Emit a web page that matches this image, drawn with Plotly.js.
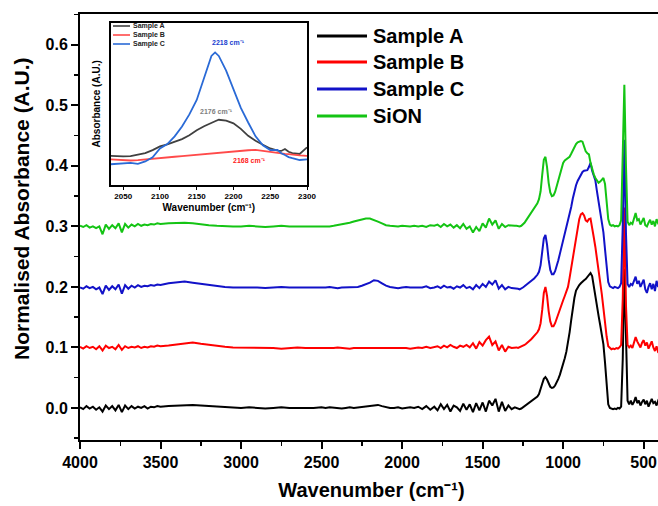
<!DOCTYPE html>
<html><head><meta charset="utf-8">
<script src="https://cdn.plot.ly/plotly-3.0.1.min.js"></script>
<style>html,body{margin:0;padding:0;overflow:hidden;background:#fff}#chart{width:663px;height:506px}</style>
</head><body><div id="chart"></div>
<script>
// ---------- main spectra (wavenumber in cm-1, normalised absorbance, offset as plotted) ----------
const wavenumber = [
4000,3980,3960,3940,3920,3900,3880,3860,3840,3820,3800,3780,3760,3740,3720,3700,3680,3660,3640,3620,3600,3580,3560,3540,3520,3500,
3450,3400,3350,3300,3250,3200,3150,3100,3050,3000,2950,2900,2850,2800,2750,2700,2650,2600,2550,2500,
2475,2450,2425,2400,2375,2350,2325,2300,2275,2250,2225,2200,2175,2150,2125,2100,2075,2050,2025,2000,1975,1950,1925,1900,1875,1850,1825,
1800,1780,1760,1740,1720,1700,1680,1660,1640,1620,1600,1580,1560,1540,1520,1500,1480,1460,1440,1420,1400,1380,1360,1340,1320,1300,
1290,1280,1270,1260,1250,1240,1230,1220,1210,1200,
1190,1180,1170,1160,1150,1140,1130,1120,1110,1100,
1090,1080,1070,1060,1050,1040,1030,1020,1010,1000,
990,980,970,960,950,940,930,920,910,900,
890,880,870,860,850,840,830,820,810,800,
790,780,770,760,750,740,730,720,710,700,
690,680,670,660,650,640,630,620,610,600,
590,580,570,560,550,540,530,520,510,500,
490,480,470,460,450,440,430,420,410,400];

const sampleA = [
0.001,-0.002,0.003,-0.001,0.002,-0.003,0.001,-0.006,0.004,-0.002,0.003,-0.004,0.005,-0.007,0.004,-0.002,0.003,-0.001,0.002,0.000,0.003,-0.001,0.002,0.001,0.003,0.002,
0.003,0.004,0.005,0.005,0.004,0.003,0.002,0.001,0.001,0.000,0.001,0.000,-0.001,0.000,0.001,0.000,0.000,-0.001,0.000,0.001,
0.000,0.001,0.000,0.000,-0.001,0.000,0.001,0.000,0.001,0.002,0.003,0.004,0.005,0.005,0.003,0.001,0.000,0.000,0.001,-0.001,0.000,0.001,0.000,0.002,-0.002,0.003,-0.003,
0.002,-0.004,0.006,-0.002,0.005,-0.006,0.004,0.001,-0.005,0.007,-0.003,0.006,-0.007,0.008,-0.004,0.009,-0.006,0.012,0.004,0.015,-0.006,0.010,-0.005,0.004,-0.002,0.001,
0.000,-0.001,-0.002,-0.001,0.001,0.003,0.005,0.007,0.009,0.011,
0.013,0.015,0.017,0.019,0.023,0.030,0.040,0.048,0.051,0.047,
0.040,0.035,0.033,0.034,0.037,0.042,0.048,0.055,0.063,0.072,
0.082,0.093,0.107,0.125,0.145,0.165,0.182,0.194,0.200,0.203,
0.206,0.209,0.211,0.213,0.216,0.220,0.223,0.218,0.200,0.184,
0.168,0.152,0.137,0.120,0.105,0.075,0.040,0.006,0.000,-0.001,
-0.002,-0.001,-0.002,0.000,-0.001,0.002,0.080,0.230,0.090,0.012,
0.006,0.012,0.005,0.010,0.018,0.008,0.012,0.004,0.010,0.014,
0.006,0.012,0.002,0.010,0.015,0.008,0.010,0.004,0.012,0.009];

const sampleB = [
0.101,0.098,0.102,0.099,0.101,0.097,0.102,0.095,0.103,0.099,0.101,0.097,0.104,0.096,0.102,0.099,0.101,0.100,0.102,0.099,0.101,0.100,0.102,0.101,0.103,0.102,
0.103,0.105,0.107,0.108,0.106,0.104,0.102,0.101,0.100,0.100,0.100,0.099,0.100,0.099,0.098,0.099,0.100,0.099,0.099,0.099,
0.099,0.098,0.099,0.100,0.099,0.099,0.098,0.099,0.099,0.099,0.100,0.100,0.100,0.100,0.100,0.099,0.099,0.099,0.100,0.099,0.099,0.098,0.099,0.100,0.099,0.101,0.099,
0.100,0.102,0.099,0.103,0.100,0.104,0.101,0.099,0.103,0.101,0.104,0.100,0.107,0.098,0.109,0.103,0.112,0.118,0.104,0.110,0.095,0.104,0.093,0.101,0.099,0.100,
0.100,0.099,0.100,0.101,0.102,0.104,0.106,0.108,0.110,0.113,
0.116,0.119,0.122,0.125,0.130,0.140,0.162,0.190,0.200,0.185,
0.160,0.143,0.135,0.135,0.140,0.148,0.157,0.165,0.172,0.178,
0.185,0.192,0.200,0.215,0.232,0.250,0.268,0.285,0.300,0.312,
0.320,0.322,0.318,0.310,0.308,0.312,0.313,0.300,0.282,0.266,
0.248,0.228,0.208,0.188,0.165,0.140,0.118,0.102,0.099,0.097,
0.098,0.097,0.099,0.098,0.100,0.104,0.180,0.331,0.170,0.104,
0.100,0.103,0.099,0.108,0.117,0.110,0.106,0.100,0.108,0.112,
0.103,0.108,0.098,0.104,0.110,0.100,0.094,0.102,0.092,0.091];

const sampleC = [
0.199,0.197,0.201,0.198,0.200,0.196,0.199,0.188,0.202,0.195,0.201,0.196,0.204,0.189,0.203,0.197,0.202,0.199,0.203,0.200,0.202,0.201,0.203,0.202,0.204,0.203,
0.206,0.208,0.209,0.207,0.205,0.203,0.201,0.200,0.199,0.199,0.200,0.199,0.198,0.199,0.200,0.199,0.199,0.198,0.199,0.199,
0.199,0.200,0.199,0.198,0.199,0.199,0.200,0.199,0.200,0.202,0.204,0.207,0.211,0.210,0.206,0.202,0.200,0.199,0.198,0.199,0.200,0.199,0.199,0.200,0.199,0.201,0.198,
0.199,0.201,0.198,0.202,0.199,0.200,0.197,0.201,0.199,0.203,0.198,0.200,0.196,0.203,0.198,0.205,0.200,0.209,0.204,0.211,0.197,0.203,0.196,0.200,0.198,0.198,
0.198,0.197,0.196,0.197,0.199,0.201,0.203,0.205,0.207,0.209,
0.211,0.214,0.217,0.220,0.225,0.236,0.258,0.280,0.286,0.270,
0.245,0.228,0.221,0.221,0.226,0.234,0.244,0.255,0.266,0.277,
0.288,0.297,0.306,0.318,0.332,0.346,0.358,0.368,0.375,0.380,
0.386,0.390,0.392,0.392,0.393,0.398,0.405,0.392,0.384,0.376,
0.358,0.340,0.325,0.311,0.290,0.262,0.232,0.208,0.201,0.199,
0.198,0.200,0.199,0.198,0.200,0.206,0.300,0.443,0.290,0.205,
0.200,0.205,0.203,0.212,0.217,0.205,0.210,0.200,0.207,0.212,
0.196,0.190,0.200,0.206,0.196,0.205,0.193,0.210,0.200,0.206];

const sampleSiON = [
0.301,0.299,0.302,0.298,0.300,0.297,0.300,0.287,0.303,0.296,0.302,0.297,0.305,0.290,0.304,0.298,0.303,0.300,0.304,0.301,0.303,0.302,0.304,0.303,0.305,0.304,
0.305,0.306,0.306,0.305,0.303,0.302,0.301,0.300,0.300,0.300,0.301,0.300,0.299,0.300,0.301,0.300,0.300,0.299,0.300,0.300,
0.300,0.300,0.301,0.302,0.303,0.305,0.306,0.308,0.310,0.312,0.313,0.313,0.311,0.308,0.305,0.302,0.301,0.300,0.300,0.301,0.300,0.300,0.301,0.300,0.301,0.299,0.302,
0.301,0.303,0.299,0.304,0.300,0.303,0.298,0.302,0.297,0.304,0.296,0.300,0.290,0.299,0.292,0.305,0.298,0.313,0.303,0.310,0.296,0.304,0.299,0.302,0.301,0.301,
0.301,0.300,0.300,0.301,0.303,0.306,0.310,0.314,0.318,0.321,
0.325,0.329,0.333,0.338,0.345,0.358,0.385,0.410,0.415,0.398,
0.372,0.356,0.350,0.351,0.357,0.366,0.376,0.387,0.397,0.405,
0.409,0.411,0.412,0.415,0.420,0.426,0.432,0.436,0.439,0.440,
0.441,0.440,0.432,0.424,0.421,0.419,0.405,0.393,0.386,0.380,
0.375,0.372,0.374,0.378,0.380,0.370,0.340,0.312,0.303,0.301,
0.302,0.300,0.301,0.300,0.302,0.310,0.420,0.534,0.400,0.308,
0.302,0.306,0.304,0.315,0.322,0.310,0.312,0.303,0.310,0.314,
0.302,0.300,0.306,0.311,0.303,0.309,0.300,0.312,0.305,0.306];

const seriesNames = ['Sample A', 'Sample B', 'Sample C', 'SiON'];

// ---------- inset (2030–2300 cm-1, arbitrary absorbance units) ----------
const insetWavenumber = [2033,2040,2050,2060,2070,2080,2090,2100,2110,2120,2130,2140,2150,2160,2165,2170,2175,2180,2190,2200,2210,2220,2230,2240,2250,2260,2265,2270,2275,2280,2290,2300];
const insetA = [0.180,0.178,0.176,0.178,0.188,0.196,0.215,0.238,0.250,0.266,0.283,0.306,0.337,0.362,0.374,0.385,0.393,0.402,0.396,0.380,0.346,0.303,0.272,0.248,0.225,0.212,0.210,0.222,0.205,0.196,0.191,0.232];
const insetB = [0.158,0.155,0.151,0.151,0.153,0.158,0.163,0.168,0.171,0.174,0.178,0.182,0.187,0.191,0.193,0.196,0.198,0.200,0.205,0.208,0.211,0.214,0.216,0.209,0.202,0.197,0.195,0.192,0.190,0.186,0.182,0.179];
const insetC = [0.128,0.130,0.135,0.136,0.130,0.145,0.170,0.225,0.252,0.300,0.360,0.435,0.524,0.660,0.735,0.795,0.817,0.795,0.705,0.585,0.475,0.385,0.300,0.245,0.215,0.216,0.195,0.185,0.172,0.165,0.154,0.158];
const insetNames = ['Sample A', 'Sample B', 'Sample C'];
const insetPeakLabels = ['2176 cm⁻¹', '2168 cm⁻¹', '2218 cm⁻¹'];
const insetTickVals = [2050, 2100, 2150, 2200, 2250, 2300];

// ---------- styling ----------
const FONT = 'Arial, "Liberation Sans", Helvetica, sans-serif';
const mainColors = ['#000000', '#ff0000', '#1212c8', '#14c414'];
const insetColors = ['#404040', '#ff4a4a', '#2a6ad6'];
const W = 663, H = 506, L = 80, R = 0, T = 14, B = 66;
const PW = W - L - R, PH = H - T - B;
const px2x = px => (px - L) / PW;
const py2y = py => (H - B - py) / PH;

const mainSeries = [sampleA, sampleB, sampleC, sampleSiON];
const traces = mainSeries.map((ys, i) => ({
  type: 'scatter', mode: 'lines', x: wavenumber, y: ys, name: seriesNames[i],
  line: {color: mainColors[i], width: 2}, showlegend: false, xaxis: 'x', yaxis: 'y'
}));
[insetA, insetB, insetC].forEach((ys, i) => traces.push({
  type: 'scatter', mode: 'lines', x: insetWavenumber, y: ys, name: insetNames[i],
  line: {color: insetColors[i], width: 1.8}, showlegend: false, xaxis: 'x2', yaxis: 'y2'
}));

const shapes = [], annotations = [];
// main legend (line sample + label)
const legRows = [36, 62, 89, 116];
seriesNames.forEach((n, i) => {
  shapes.push({type: 'line', xref: 'paper', yref: 'paper', x0: px2x(317), x1: px2x(367), y0: py2y(legRows[i]), y1: py2y(legRows[i]), line: {color: mainColors[i], width: 3}});
  annotations.push({xref: 'paper', yref: 'paper', x: px2x(371), y: py2y(legRows[i]), xanchor: 'left', yanchor: 'middle', showarrow: false, text: n, font: {family: FONT, size: 20, weight: 700, color: '#000'}});
});
// inset legend
const insLegRows = [26, 35, 44];
insetNames.forEach((n, i) => {
  shapes.push({type: 'line', xref: 'paper', yref: 'paper', x0: px2x(113), x1: px2x(130), y0: py2y(insLegRows[i]), y1: py2y(insLegRows[i]), line: {color: insetColors[i], width: 1.6}});
  annotations.push({xref: 'paper', yref: 'paper', x: px2x(131), y: py2y(insLegRows[i]), xanchor: 'left', yanchor: 'middle', showarrow: false, text: n, font: {family: FONT, size: 7, weight: 700, color: '#222'}});
});
// inset peak labels
const peakLabelPos = [[2177, 0.45, '#808080'], [2222, 0.15, '#ff2020'], [2193, 0.875, '#1a3fd0']];
insetPeakLabels.forEach((t, i) => annotations.push({
  xref: 'x2', yref: 'y2', x: peakLabelPos[i][0], y: peakLabelPos[i][1], showarrow: false, text: t,
  font: {family: FONT, size: 7, weight: 700, color: peakLabelPos[i][2]}
}));
// main y-axis title (sits slightly above the plot centre in the reference)
annotations.push({
  xref: 'paper', yref: 'paper', x: px2x(22), y: py2y(209), xanchor: 'center', yanchor: 'middle', textangle: -90,
  showarrow: false, text: 'Normalised Absorbance (A.U.)', font: {family: FONT, size: 21, weight: 700, color: '#000'}
});

const axisBase = {showgrid: false, zeroline: false, linecolor: '#000', linewidth: 2, mirror: true, ticks: 'outside', tickcolor: '#000'};

const layout = {
  width: W, height: H, margin: {l: L, r: R, t: T, b: B},
  paper_bgcolor: '#fff', plot_bgcolor: '#fff', showlegend: false,
  font: {family: FONT, color: '#000'},
  xaxis: Object.assign({}, axisBase, {
    domain: [0, 1], anchor: 'y', range: [4000, 380], tickmode: 'linear', tick0: 0, dtick: 500,
    ticklen: 7, tickwidth: 2, tickfont: {family: FONT, size: 16, weight: 700, color: '#000'},
    minor: {dtick: 250, tick0: 0, ticks: 'outside', ticklen: 4, tickwidth: 1.5, tickcolor: '#000', showgrid: false},
    title: {text: 'Wavenumber (cm⁻¹)', font: {family: FONT, size: 20, weight: 700, color: '#000'}, standoff: 13}
  }),
  yaxis: Object.assign({}, axisBase, {
    domain: [0, 1], anchor: 'x', range: [-0.053, 0.651], tickmode: 'linear', tick0: 0, dtick: 0.1, tickformat: '.1f',
    ticklen: 7, tickwidth: 2, tickfont: {family: FONT, size: 16, weight: 700, color: '#000'},
    minor: {dtick: 0.05, tick0: 0, ticks: 'outside', ticklen: 4, tickwidth: 1.5, tickcolor: '#000', showgrid: false}
  }),
  xaxis2: Object.assign({}, axisBase, {
    domain: [px2x(110.7), px2x(307)], anchor: 'y2', range: [2033, 2300], tickmode: 'array', tickvals: insetTickVals,
    linewidth: 1.5, ticklen: 3, tickwidth: 1, tickfont: {family: FONT, size: 8, weight: 700, color: '#000'},
    title: {text: 'Wavenumber (cm⁻¹)', font: {family: FONT, size: 10, weight: 700, color: '#000'}, standoff: 4}
  }),
  yaxis2: Object.assign({}, axisBase, {
    domain: [py2y(185), py2y(22.7)], anchor: 'x2', range: [0, 1], showticklabels: false, ticks: '',
    linewidth: 1.5,
    title: {text: 'Absorbance (A.U.)', font: {family: FONT, size: 10, weight: 700, color: '#000'}, standoff: 6}
  }),
  shapes: shapes, annotations: annotations
};

Plotly.newPlot('chart', traces, layout, {displayModeBar: false, staticPlot: true});
</script></body></html>
